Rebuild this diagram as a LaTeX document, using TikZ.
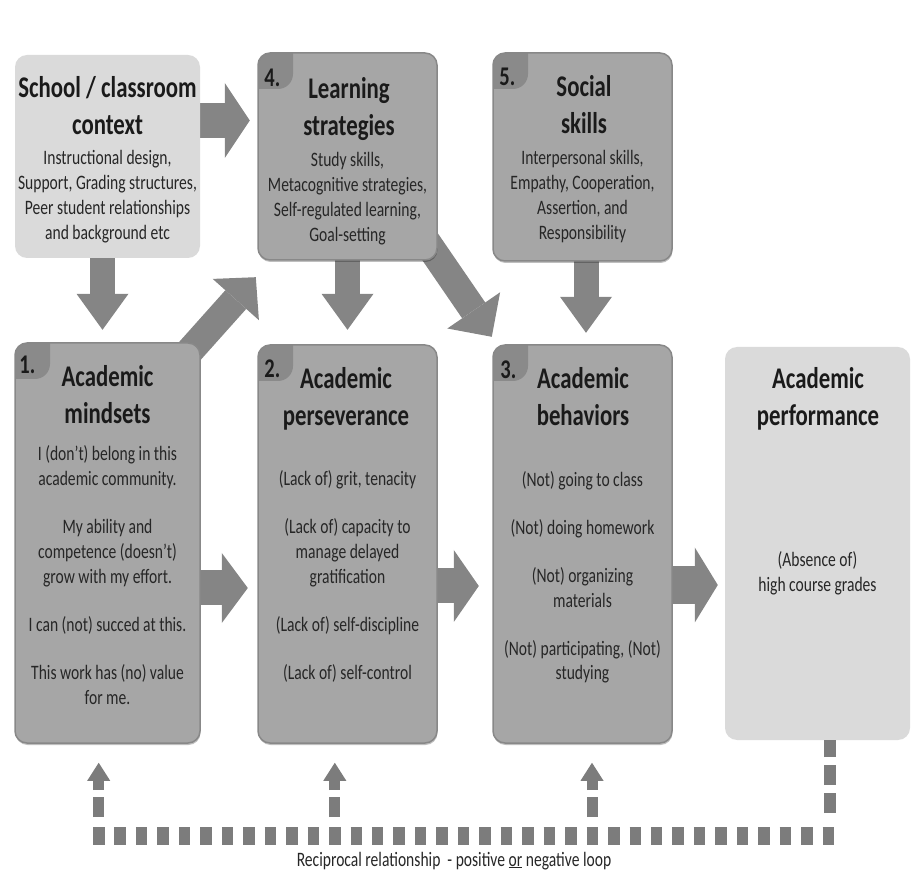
\documentclass[tikz,border=0pt]{standalone}
\usepackage{fontspec}
\setmainfont{Carlito}[FakeStretch=0.76]
\usetikzlibrary{arrows.meta,shadows}
\definecolor{boxdark}{HTML}{A6A6A6}
\definecolor{boxlight}{HTML}{DADADA}
\definecolor{boxedge}{HTML}{888888}
\definecolor{badgecol}{HTML}{8A8A8A}
\definecolor{arrowcol}{HTML}{858585}
\definecolor{loopcol}{HTML}{7C7C7C}
\definecolor{txt}{HTML}{1A1A1A}
\definecolor{bodytxt}{HTML}{262626}
\begin{document}
\begin{tikzpicture}[x=1pt,y=-1pt,
  darkbox/.style={rectangle, rounded corners=12pt, fill=boxdark, draw=boxedge, line width=1.5pt,
    drop shadow={shadow xshift=0.5pt, shadow yshift=-2pt, fill=black, opacity=.25}},
  lightbox/.style={rectangle, rounded corners=12pt, fill=boxlight, draw=none},
  badged/.style={path picture={\fill[badgecol, rounded corners=15pt]
      ([shift={(-20pt,20pt)}]path picture bounding box.north west) rectangle
      ([shift={(35pt,-36pt)}]path picture bounding box.north west);}},
  ttl/.style={font=\fontsize{30}{37}\selectfont\bfseries, text=txt, align=center, inner sep=0pt, anchor=base},
  body/.style={font=\fontsize{20.5}{25}\selectfont, text=bodytxt, align=center, inner sep=0pt, anchor=base},
  num/.style={font=\fontsize{27}{30}\selectfont\bfseries, text=txt, inner sep=0pt, anchor=base west},
  fatarrow/.style n args={3}{color=arrowcol, line width=#1, -{Triangle[width=#2,length=#3,line width=0pt]}},
  looph/.style={draw=loopcol, line width=18pt, dash pattern=on 11.5pt off 9.96pt},
  loopv/.style={draw=loopcol, line width=12pt, dash pattern=on 20pt off 8pt, dash phase=20pt},
  loopup/.style={draw=loopcol, line width=11pt, -{Triangle[width=23pt,length=18pt,line width=0pt]},
    dash pattern=on 20pt off 7pt on 10pt off 10pt, dash phase=37pt},
]
\useasboundingbox (0,0) rectangle (914,874);

\path (107.5,156.5) coordinate (cschool) (347.5,156.5) coordinate (clearn) (582.5,157) coordinate (csocial)
      (107.5,543) coordinate (cmind) (347.5,544) coordinate (cpers) (582.5,544) coordinate (cbeh)
      (817.5,543.5) coordinate (cperf);

% placeholders so that arrows can be drawn behind the boxes
\node[minimum width=185pt, minimum height=203pt, inner sep=0pt] (school) at (cschool) {};
\node[minimum width=179pt, minimum height=207pt, inner sep=0pt] (learn) at (clearn) {};
\node[minimum width=179pt, minimum height=208pt, inner sep=0pt] (social) at (csocial) {};
\node[minimum width=185pt, minimum height=400pt, inner sep=0pt] (mind) at (cmind) {};
\node[minimum width=179pt, minimum height=398pt, inner sep=0pt] (pers) at (cpers) {};
\node[minimum width=179pt, minimum height=398pt, inner sep=0pt] (beh) at (cbeh) {};
\node[minimum width=185pt, minimum height=393pt, inner sep=0pt] (perf) at (cperf) {};

% ---------- fat arrows ----------
\draw[fatarrow={35pt}{75pt}{25pt}, shorten >=8pt] (school.east |- 0,120.5) -- (learn.west |- 0,120.5);
\draw[fatarrow={25pt}{52pt}{36pt}, shorten >=13pt] ([xshift=-5pt]school.south) -- ([xshift=-5pt]mind.north);
\draw[fatarrow={25pt}{52pt}{36pt}, shorten >=15pt] (learn.south) -- (pers.north);
\draw[fatarrow={25pt}{52pt}{36pt}, shorten >=12pt] ([xshift=3.5pt]social.south) -- ([xshift=3.5pt]beh.north);
\draw[fatarrow={28pt}{62pt}{30pt}] ([shift={(-20pt,-19pt)}]mind.north east) -- ([shift={(-2pt,-17pt)}]learn.south west);
\draw[fatarrow={28pt}{64pt}{32pt}] ([shift={(-13pt,22pt)}]learn.south east) -- ([shift={(-1pt,8pt)}]beh.north west);
\draw[fatarrow={35pt}{70pt}{26pt}, shorten >=10pt] (mind.east |- 0,588) -- (pers.west |- 0,588);
\draw[fatarrow={35pt}{72pt}{25pt}, shorten >=14pt] (pers.east |- 0,586) -- (beh.west |- 0,586);
\draw[fatarrow={38pt}{75pt}{23pt}, shorten >=7pt] (beh.east |- 0,585) -- (perf.west |- 0,585);

% ---------- visible boxes ----------
\node[lightbox, minimum width=185pt, minimum height=203pt] (schoolbox) at (cschool) {};
\node[darkbox, badged, minimum width=179pt, minimum height=207pt] (learnbox) at (clearn) {};
\node[darkbox, badged, minimum width=179pt, minimum height=208pt] (socialbox) at (csocial) {};
\node[darkbox, badged, minimum width=185pt, minimum height=400pt] (mindbox) at (cmind) {};
\node[darkbox, badged, minimum width=179pt, minimum height=398pt] (persbox) at (cpers) {};
\node[darkbox, badged, minimum width=179pt, minimum height=398pt] (behbox) at (cbeh) {};
\node[lightbox, minimum width=185pt, minimum height=393pt] (perfbox) at (cperf) {};

% ---------- numbers ----------
\node[num] (n1) at ([shift={(5pt,-31pt)}]mindbox.north west) {1.};
\node[num] (n2) at ([shift={(7pt,-33pt)}]persbox.north west) {2.};
\node[num] (n3) at ([shift={(8pt,-34pt)}]behbox.north west) {3.};
\node[num] (n4) at ([shift={(7pt,-34pt)}]learnbox.north west) {4.};
\node[num] (n5) at ([shift={(7pt,-33pt)}]socialbox.north west) {5.};

% ---------- titles (anchored at the baseline of the last line) ----------
\node[ttl] (schoolT) at (107.5,135) {School / classroom\\context};
\node[ttl] (learnT) at (349,136) {Learning\\strategies};
\node[ttl] (socialT) at (584,134) {Social\\skills};
\node[ttl] (mindT) at (107.5,424) {Academic\\mindsets};
\node[ttl] (persT) at (346,426) {Academic\\perseverance};
\node[ttl] (behT) at (583,426) {Academic\\behaviors};
\node[ttl] (perfT) at (818,426) {Academic\\performance};

% ---------- bodies (anchored at the baseline of the last line) ----------
\node[body] (schoolB) at (107.5,240) {Instructional design,\\Support, Grading structures,\\Peer student relationships\\and background etc};
\node[body] (learnB) at (347.5,242) {Study skills,\\Metacognitive strategies,\\Self-regulated learning,\\Goal-setting};
\node[body] (socialB) at (582.5,240) {Interpersonal skills,\\Empathy, Cooperation,\\Assertion, and\\Responsibility};
\node[body] (mindB) at (107.5,704) {I (don't) belong in this\\academic community.\\[23pt]My ability and\\competence (doesn't)\\grow with my effort.\\[23pt]I can (not) succed at this.\\[23pt]This work has (no) value\\for me.};
\node[body] (persB) at (347.5,679) {(Lack of) grit, tenacity\\[23pt](Lack of) capacity to\\manage delayed\\gratification\\[23pt](Lack of) self-discipline\\[23pt](Lack of) self-control};
\node[body] (behB) at (582.5,680) {(Not) going to class\\[23pt](Not) doing homework\\[23pt](Not) organizing\\materials\\[23pt](Not) participating, (Not)\\studying};
\node[body] (perfB) at (817.5,592) {(Absence of)\\high course grades};

% ---------- reciprocal loop ----------
\coordinate (loopSE) at (834,836);
\coordinate (loopSW) at (93,836);
\draw[loopv] (830,821) -- ([xshift=12.5pt]perfbox.south);
\draw[looph] (loopSW) -- (loopSE);
\draw[loopup] (98.7,827) -- ([yshift=-19pt]mindbox.south -| 98.7,0);
\draw[loopup] (334.8,827) -- ([yshift=-19pt]persbox.south -| 334.8,0);
\draw[loopup] (592,827) -- ([yshift=-19pt]behbox.south -| 592,0);
\node[font=\fontsize{20.5}{23}\selectfont, text=bodytxt, anchor=base, inner sep=0pt] (loopL) at (454,866)
  {Reciprocal relationship \ - positive \underline{or} negative loop};
\end{tikzpicture}
\end{document}
